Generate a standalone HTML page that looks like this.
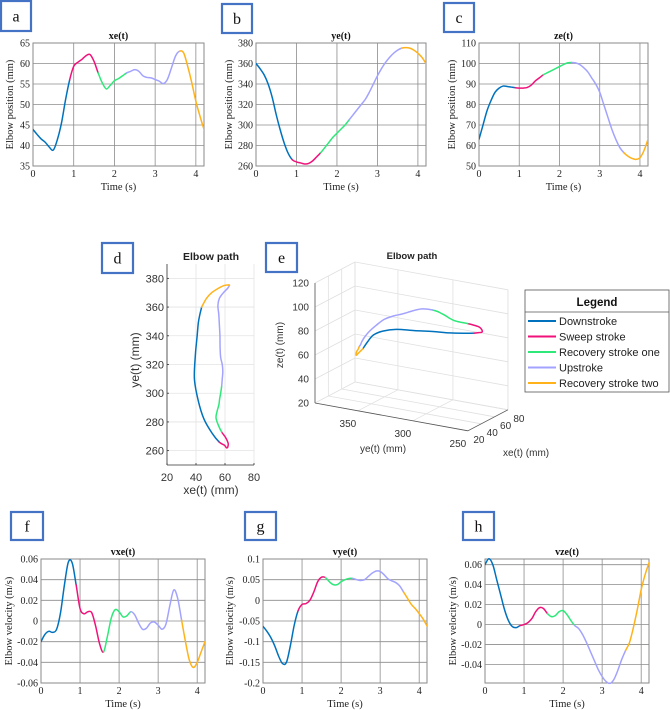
<!DOCTYPE html>
<html><head><meta charset="utf-8">
<style>
html,body{margin:0;padding:0;background:#fff;}
svg{display:block;}
.serif{font-family:"Liberation Serif",serif;}
.sans{font-family:"Liberation Sans",sans-serif;}
</style></head>
<body>
<svg id="fig" width="670" height="710" viewBox="0 0 670 710" xmlns="http://www.w3.org/2000/svg"></svg>
<script>
// ---- data (sampled every 0.1 s from 0 to 4.2 s) ----
const times = [0,0.1,0.2,0.3,0.4,0.5,0.6,0.7,0.8,0.9,1.0,1.1,1.2,1.3,1.4,1.5,1.6,1.7,1.8,1.9,2.0,2.1,2.2,2.3,2.4,2.5,2.6,2.7,2.8,2.9,3.0,3.1,3.2,3.3,3.4,3.5,3.6,3.7,3.8,3.9,4.0,4.1,4.2];
const xeVals = [43.9,42.7,41.6,40.8,39.6,38.9,41.5,45.5,51.2,56,59.3,60.3,61,61.9,62.2,60.5,57.7,55.3,53.8,54.7,55.8,56.3,57,57.7,58.1,58.5,58.1,57,56.6,56.5,56.1,55.7,55.1,56.1,58.9,61.8,63,62.6,59.3,55.3,50.8,47.2,43.9];
const yeVals = [360,355,349,340,327,310,295,282,272,266,264,263,262,262.5,265,269,273,278,283,288,292,296,300,305,310,315,320,325,332,340,348,355,361,366,370,373,375,375.5,375,373,370,366,360];
const zeVals = [63,70,77,82,86,88,89,88.8,88.5,88.2,88,88,88.3,89.5,91.5,93,94.5,95.5,96.5,97.5,98.5,99.5,100.3,100.5,100.3,99.5,98,96,93,90,86,80,74,68,63,59,56.5,54.8,53.7,53.2,54,57.5,63];
const vxeVals = [-0.02,-0.013,-0.01,-0.011,-0.008,0.008,0.035,0.057,0.056,0.035,0.012,0.007,0.009,0.008,-0.005,-0.022,-0.03,-0.015,0.003,0.011,0.009,0.004,0.005,0.009,0.006,-0.002,-0.008,-0.007,-0.002,-0.001,-0.004,-0.008,-0.003,0.015,0.03,0.022,0.001,-0.02,-0.038,-0.045,-0.04,-0.03,-0.02];
const vyeVals = [-0.063,-0.075,-0.09,-0.11,-0.135,-0.153,-0.15,-0.11,-0.06,-0.025,-0.01,-0.008,0,0.02,0.045,0.056,0.055,0.045,0.038,0.038,0.045,0.05,0.053,0.053,0.05,0.048,0.05,0.058,0.066,0.071,0.07,0.062,0.052,0.047,0.043,0.035,0.02,0.005,-0.01,-0.02,-0.032,-0.045,-0.062];
const vzeVals = [0.06,0.066,0.06,0.045,0.03,0.015,0.004,-0.002,-0.003,-0.001,0,0.002,0.006,0.013,0.017,0.016,0.011,0.008,0.009,0.013,0.014,0.01,0.004,-0.001,-0.004,-0.01,-0.018,-0.027,-0.036,-0.045,-0.052,-0.057,-0.059,-0.055,-0.046,-0.035,-0.026,-0.018,-0.003,0.015,0.035,0.05,0.062];
const phaseNames = ["Downstroke","Sweep stroke","Recovery stroke one","Upstroke","Recovery stroke two"];
const phaseStart = [0,0.9,1.6,2.3,3.6];
const phaseEnd = [0.9,1.6,2.3,3.6,4.2];
const phaseColors = ["#0072BD","#F0127A","#2EE879","#A3A3FF","#FFB21A"];
const timeTicks = [0,1,2,3,4];
const xeTicks = [35,40,45,50,55,60,65];
const yeTicks = [260,280,300,320,340,360,380];
const zeTicks = [50,60,70,80,90,100,110];
const vxeTicks = [-0.06,-0.04,-0.02,0,0.02,0.04,0.06];
const vyeTicks = [-0.2,-0.15,-0.1,-0.05,0,0.05,0.1];
const vzeTicks = [-0.04,-0.02,0,0.02,0.04,0.06];
const dXTicks = [20,40,60,80];
const dYTicks = [260,280,300,320,340,360,380];
const eZTicks = [20,40,60,80,100,120];
const eYeTicks = [350,300,250];
const eXeTicks = [20,40,60,80];

const NS = "http://www.w3.org/2000/svg";
const svg = document.getElementById("fig");
function el(tag, attrs, parent, text){
  const e = document.createElementNS(NS, tag);
  for (const k in attrs) e.setAttribute(k, attrs[k]);
  if (text !== undefined) e.textContent = text;
  (parent || svg).appendChild(e);
  return e;
}
function drawPhases(g, proj, namePrefix){
  const all = times.map((t,i)=>proj(i));
  for (let p = 0; p < phaseNames.length; p++){
    const idx = [];
    times.forEach((t,i)=>{ if (t >= phaseStart[p]-1e-9 && t <= phaseEnd[p]+1e-9) idx.push(i); });
    const i0 = idx[0], i1 = idx[idx.length-1];
    let d = "M"+all[i0][0].toFixed(2)+","+all[i0][1].toFixed(2);
    for (let i = i0; i < i1; i++){
      const p0 = all[Math.max(0,i-1)], p1 = all[i], p2 = all[i+1], p3 = all[Math.min(all.length-1,i+2)];
      const c1 = [p1[0]+(p2[0]-p0[0])/6, p1[1]+(p2[1]-p0[1])/6];
      const c2 = [p2[0]-(p3[0]-p1[0])/6, p2[1]-(p3[1]-p1[1])/6];
      d += "C"+c1[0].toFixed(2)+","+c1[1].toFixed(2)+" "+c2[0].toFixed(2)+","+c2[1].toFixed(2)+" "+p2[0].toFixed(2)+","+p2[1].toFixed(2);
    }
    const path = el("path", {d:d, fill:"none", stroke:phaseColors[p], "stroke-width":1.5, "stroke-linecap":"round"}, g);
    
    
  }
}
function labelBox(x, y, w, h, letter, name){
  const g = el("g", {}, svg);
  
  
  el("rect", {x:x, y:y, width:w, height:h, fill:"#fff", stroke:"#4472C4", "stroke-width":2.2}, g);
  el("text", {x:x+w/2, y:y+h/2+5.5, "text-anchor":"middle", class:"serif", "font-size":16, fill:"#111"}, g, letter);
}
function fmt(v){ return String(Math.round(v*1000)/1000); }

function plot2D(o){
  const g = el("g", {}, svg);
  
  
  const X = v => o.l + (v - o.xmin)/(o.xmax - o.xmin)*(o.r - o.l);
  const Y = v => o.b - (v - o.ymin)/(o.ymax - o.ymin)*(o.b - o.t);
  el("rect", {x:o.l, y:o.t, width:o.r-o.l, height:o.b-o.t, fill:"#fff", stroke:"#8a8a8a", "stroke-width":1}, g);
  const grid = el("g", {stroke:"#8c8c8c", "stroke-width":0.8}, g);
  
  
  timeTicks.forEach(t => { if (t > o.xmin && t < o.xmax) el("line", {x1:X(t), x2:X(t), y1:o.t, y2:o.b}, grid); });
  o.yticks.forEach(v => { const y = Y(v); if (y > o.t+0.5 && y < o.b-0.5) el("line", {x1:o.l, x2:o.r, y1:y, y2:y}, grid); });
  const tl = el("g", {class:"serif", "font-size":10, fill:"#222"}, g);
  
  
  timeTicks.forEach(t => el("text", {x:X(t), y:o.b+11, "text-anchor":"middle"}, tl, String(t)));
  o.yticks.forEach(v => el("text", {x:o.l-3, y:Y(v)+3.5, "text-anchor":"end"}, tl, fmt(v)));
  const ti = el("text", {x:(o.l+o.r)/2, y:o.t-4, "text-anchor":"middle", class:"serif", "font-size":10, "font-weight":"bold", fill:"#111"}, g, o.title);
   
  const xl = el("text", {x:(o.l+o.r)/2, y:o.b+24, "text-anchor":"middle", class:"serif", "font-size":10.5, fill:"#222"}, g, "Time (s)");
   
  const cy = (o.t+o.b)/2;
  const yl = el("text", {x:o.ylx, y:cy, "text-anchor":"middle", class:"serif", "font-size":10.5, fill:"#222", transform:"rotate(-90 "+o.ylx+" "+cy+")"}, g, o.ylabel);
   
  const cg = el("defs", {}, g);
  const cp = el("clipPath", {id:"clip-"+o.name}, cg);
  el("rect", {x:o.l, y:o.t-1, width:o.r-o.l, height:o.b-o.t+2}, cp);
  const lg = el("g", {"clip-path":"url(#clip-"+o.name+")"}, g);
  drawPhases(lg, i => [X(times[i]), Y(o.vals[i])], o.name);
}

// ---- panels a,b,c ----
labelBox(1,1,30,30,"a","label-a");
labelBox(222,4,30,29,"b","label-b");
labelBox(444,3,30,29,"c","label-c");
plot2D({name:"xe-plot", l:33, r:204, t:43, b:166, xmin:0, xmax:4.2, ymin:35, ymax:65, yticks:xeTicks, vals:xeVals, title:"xe(t)", ylabel:"Elbow position (mm)", ylx:13});
plot2D({name:"ye-plot", l:256, r:426, t:43, b:166, xmin:0, xmax:4.2, ymin:260, ymax:380, yticks:yeTicks, vals:yeVals, title:"ye(t)", ylabel:"Elbow position (mm)", ylx:232});
plot2D({name:"ze-plot", l:479, r:648, t:43, b:166, xmin:0, xmax:4.2, ymin:50, ymax:110, yticks:zeTicks, vals:zeVals, title:"ze(t)", ylabel:"Elbow position (mm)", ylx:455});

// ---- panels f,g,h ----
labelBox(11,512,32,28,"f","label-f");
labelBox(245,512,31,28,"g","label-g");
labelBox(463,512,31,28,"h","label-h");
plot2D({name:"vxe-plot", l:41, r:205, t:559, b:683, xmin:0, xmax:4.2, ymin:-0.06, ymax:0.06, yticks:vxeTicks, vals:vxeVals, title:"vxe(t)", ylabel:"Elbow velocity (m/s)", ylx:12});
plot2D({name:"vye-plot", l:263, r:427, t:559, b:683, xmin:0, xmax:4.2, ymin:-0.2, ymax:0.1, yticks:vyeTicks, vals:vyeVals, title:"vye(t)", ylabel:"Elbow velocity (m/s)", ylx:233});
plot2D({name:"vze-plot", l:485, r:649, t:559, b:683, xmin:0, xmax:4.2, ymin:-0.0585, ymax:0.0657, yticks:vzeTicks, vals:vzeVals, title:"vze(t)", ylabel:"Elbow velocity (m/s)", ylx:456});

// ---- panel d: xe vs ye ----
labelBox(102,243,31,30,"d","label-d");
(function(){
  const g = el("g", {}, svg);
  
  
  const l=167, r=254, t=264, b=465, xmin=20, xmax=80, ymin=250, ymax=390;
  const X = v => l + (v-xmin)/(xmax-xmin)*(r-l);
  const Y = v => b - (v-ymin)/(ymax-ymin)*(b-t);
  const grid = el("g", {stroke:"#e3e3e3", "stroke-width":0.8}, g);
   
  dXTicks.forEach(v => el("line", {x1:X(v), x2:X(v), y1:t, y2:b}, grid));
  dYTicks.forEach(v => el("line", {x1:l, x2:r, y1:Y(v), y2:Y(v)}, grid));
  el("line", {x1:l, x2:l, y1:t, y2:b, stroke:"#333", "stroke-width":0.8}, g);
  el("line", {x1:l, x2:r, y1:b, y2:b, stroke:"#333", "stroke-width":0.8}, g);
  dXTicks.forEach(v => el("line", {x1:X(v), x2:X(v), y1:b, y2:b-2, stroke:"#333", "stroke-width":0.8}, g));
  dYTicks.forEach(v => el("line", {x1:l, x2:l+2, y1:Y(v), y2:Y(v), stroke:"#333", "stroke-width":0.8}, g));
  const tl = el("g", {class:"sans", "font-size":11, fill:"#333"}, g);
   
  dXTicks.forEach(v => el("text", {x:X(v), y:b+16, "text-anchor":"middle"}, tl, String(v)));
  dYTicks.forEach(v => el("text", {x:l-3, y:Y(v)+4, "text-anchor":"end"}, tl, String(v)));
  const ti = el("text", {x:211, y:260, "text-anchor":"middle", class:"sans", "font-size":10.5, "font-weight":"bold", fill:"#222"}, g, "Elbow path");
   
  const xl = el("text", {x:211, y:494, "text-anchor":"middle", class:"sans", "font-size":12, fill:"#333"}, g, "xe(t) (mm)");
   
  const yl = el("text", {x:139, y:360, "text-anchor":"middle", class:"sans", "font-size":12, fill:"#333", transform:"rotate(-90 139 360)"}, g, "ye(t) (mm)");
   
  drawPhases(g, i => [X(xeVals[i]), Y(yeVals[i])], 'elbow-path-2d');
})();

// ---- panel e: 3D path ----
labelBox(266,243,31,29,"e","label-e");
(function(){
  const g = el("g", {}, svg);
  
  
  const P = (xe, ye, ze) => [315 + (389-ye)*1.1 + (xe-20)*0.667, 403 + (389-ye)*0.2 - (xe-20)*0.35 - (ze-20)*1.2];
  const L = (a, b, attrs, parent) => { const p=P(...a), q=P(...b); return el("line", Object.assign({x1:p[0],y1:p[1],x2:q[0],y2:q[1]}, attrs), parent); };
  const grid = el("g", {stroke:"#e0e0e0", "stroke-width":0.8}, g);
   
  const yeMin=250, yeMax=389, xeMin=20, xeMax=80, zMin=20, zMax=120;
  eZTicks.forEach(z => L([xeMax,yeMax,z],[xeMax,yeMin,z],{},grid));
  eYeTicks.concat([yeMax,yeMin]).forEach(y => L([xeMax,y,zMin],[xeMax,y,zMax],{},grid));
  eZTicks.forEach(z => L([xeMin,yeMax,z],[xeMax,yeMax,z],{},grid));
  eXeTicks.forEach(x => L([x,yeMax,zMin],[x,yeMax,zMax],{},grid));
  eYeTicks.forEach(y => L([xeMin,y,zMin],[xeMax,y,zMin],{},grid));
  eXeTicks.forEach(x => L([x,yeMax,zMin],[x,yeMin,zMin],{},grid));
  const ax = {stroke:"#555", "stroke-width":0.8};
  L([xeMin,yeMax,zMin],[xeMin,yeMax,zMax],ax,g);
  L([xeMin,yeMax,zMin],[xeMin,yeMin,zMin],ax,g);
  L([xeMin,yeMin,zMin],[xeMax,yeMin,zMin],ax,g);
  const tl = el("g", {class:"sans", "font-size":10, fill:"#333"}, g);
   
  eZTicks.forEach(z => { const p=P(xeMin,yeMax,z); el("text", {x:p[0]-6, y:p[1]+3.5, "text-anchor":"end"}, tl, String(z)); });
  eYeTicks.forEach(y => { const p=P(xeMin,y,zMin); el("text", {x:p[0]-10, y:p[1]+16, "text-anchor":"middle"}, tl, String(y)); });
  eXeTicks.forEach(x => { const p=P(x,yeMin,zMin); el("text", {x:p[0]+11, y:p[1]+12, "text-anchor":"middle"}, tl, String(x)); });
  const ti = el("text", {x:412, y:259, "text-anchor":"middle", class:"sans", "font-size":9.5, "font-weight":"bold", fill:"#222"}, g, "Elbow path");
   
  const yl = el("text", {x:383, y:452, "text-anchor":"middle", class:"sans", "font-size":10, fill:"#333"}, g, "ye(t) (mm)");
   
  const xl = el("text", {x:503, y:456, "text-anchor":"start", class:"sans", "font-size":10, fill:"#333"}, g, "xe(t) (mm)");
   
  const zl = el("text", {x:283, y:345, "text-anchor":"middle", class:"sans", "font-size":10, fill:"#333", transform:"rotate(-90 283 345)"}, g, "ze(t) (mm)");
   
  drawPhases(g, i => P(xeVals[i], yeVals[i], zeVals[i]), 'elbow-path-3d');
})();

// ---- legend ----
(function(){
  const g = el("g", {}, svg);
  
  
  el("rect", {x:525, y:290, width:144, height:102, fill:"#fff", stroke:"#555", "stroke-width":0.8}, g);
  el("line", {x1:525, x2:669, y1:312, y2:312, stroke:"#555", "stroke-width":0.8}, g);
  el("text", {x:597, y:306, "text-anchor":"middle", class:"sans", "font-size":11.5, "font-weight":"bold", fill:"#111"}, g, "Legend");
  phaseNames.forEach((n, i) => {
    const y = 321 + i*15.5;
    const e = el("g", {}, g);
    
    
    el("line", {x1:528, x2:556, y1:y, y2:y, stroke:phaseColors[i], "stroke-width":2}, e);
    el("text", {x:559, y:y+4, class:"sans", "font-size":11, fill:"#222"}, e, n);
  });
})();
</script>
</body></html>
